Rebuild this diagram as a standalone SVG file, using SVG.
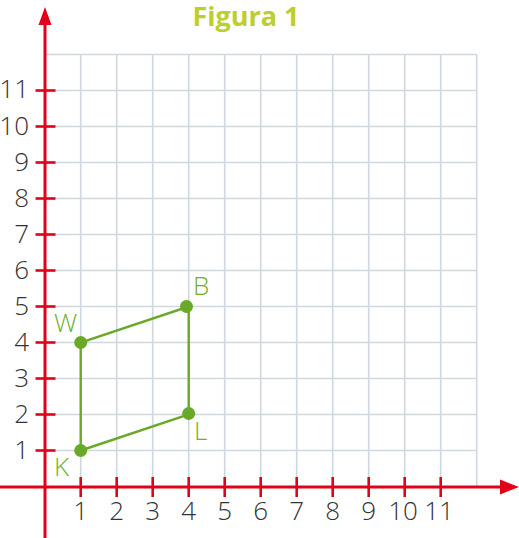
<svg xmlns="http://www.w3.org/2000/svg" width="519" height="538" viewBox="0 0 519 538">
<style>
.grid line{stroke:#cfd8e1;stroke-width:1.6}
.axis{stroke:#e2001a;stroke-width:3;fill:none}
.tick{stroke:#e2001a;stroke-width:2.6}
.num{font-family:"Open Sans","Liberation Sans",sans-serif;font-weight:300;font-size:26px;fill:#333}
.lbl{font-family:"Open Sans","Liberation Sans",sans-serif;font-weight:300;font-size:26px;fill:#72b02c}
.seg{stroke:#6aa82a;stroke-width:2.4;fill:none}
.pt{fill:#6aa82a}
</style>
<rect width="519" height="538" fill="#fff"/>
<text x="246" y="26" text-anchor="middle" font-family="'Open Sans','Liberation Sans',sans-serif" font-weight="700" font-size="27" fill="#bccf2c">Figura 1</text>
<g class="grid">
<line x1="80.7" y1="54.5" x2="80.7" y2="486.5"/><line x1="116.7" y1="54.5" x2="116.7" y2="486.5"/><line x1="152.7" y1="54.5" x2="152.7" y2="486.5"/><line x1="188.7" y1="54.5" x2="188.7" y2="486.5"/><line x1="224.7" y1="54.5" x2="224.7" y2="486.5"/><line x1="260.7" y1="54.5" x2="260.7" y2="486.5"/><line x1="296.7" y1="54.5" x2="296.7" y2="486.5"/><line x1="332.7" y1="54.5" x2="332.7" y2="486.5"/><line x1="368.7" y1="54.5" x2="368.7" y2="486.5"/><line x1="404.7" y1="54.5" x2="404.7" y2="486.5"/><line x1="440.7" y1="54.5" x2="440.7" y2="486.5"/><line x1="476.7" y1="54.5" x2="476.7" y2="486.5"/>
<line x1="45" y1="450.5" x2="476.7" y2="450.5"/><line x1="45" y1="414.5" x2="476.7" y2="414.5"/><line x1="45" y1="378.5" x2="476.7" y2="378.5"/><line x1="45" y1="342.5" x2="476.7" y2="342.5"/><line x1="45" y1="306.5" x2="476.7" y2="306.5"/><line x1="45" y1="270.5" x2="476.7" y2="270.5"/><line x1="45" y1="234.5" x2="476.7" y2="234.5"/><line x1="45" y1="198.5" x2="476.7" y2="198.5"/><line x1="45" y1="162.5" x2="476.7" y2="162.5"/><line x1="45" y1="126.5" x2="476.7" y2="126.5"/><line x1="45" y1="90.5" x2="476.7" y2="90.5"/><line x1="45" y1="54.5" x2="476.7" y2="54.5"/>
</g>
<g id="axes">
<line class="axis" x1="0" y1="487" x2="503" y2="487"/>
<polygon points="519,487 500,479.5 500,494.5" fill="#e2001a"/>
<line class="axis" x1="45" y1="538" x2="45" y2="22"/>
<polygon points="45,7 38.5,25 51.5,25" fill="#e2001a"/>
<g class="tick">
<line x1="80.7" y1="477" x2="80.7" y2="497"/><line x1="116.7" y1="477" x2="116.7" y2="497"/><line x1="152.7" y1="477" x2="152.7" y2="497"/><line x1="188.7" y1="477" x2="188.7" y2="497"/><line x1="224.7" y1="477" x2="224.7" y2="497"/><line x1="260.7" y1="477" x2="260.7" y2="497"/><line x1="296.7" y1="477" x2="296.7" y2="497"/><line x1="332.7" y1="477" x2="332.7" y2="497"/><line x1="368.7" y1="477" x2="368.7" y2="497"/><line x1="404.7" y1="477" x2="404.7" y2="497"/><line x1="440.7" y1="477" x2="440.7" y2="497"/>
<line x1="35.5" y1="450.5" x2="55.5" y2="450.5"/><line x1="35.5" y1="414.5" x2="55.5" y2="414.5"/><line x1="35.5" y1="378.5" x2="55.5" y2="378.5"/><line x1="35.5" y1="342.5" x2="55.5" y2="342.5"/><line x1="35.5" y1="306.5" x2="55.5" y2="306.5"/><line x1="35.5" y1="270.5" x2="55.5" y2="270.5"/><line x1="35.5" y1="234.5" x2="55.5" y2="234.5"/><line x1="35.5" y1="198.5" x2="55.5" y2="198.5"/><line x1="35.5" y1="162.5" x2="55.5" y2="162.5"/><line x1="35.5" y1="126.5" x2="55.5" y2="126.5"/><line x1="35.5" y1="90.5" x2="55.5" y2="90.5"/>
</g>
<g class="num" text-anchor="middle">
<text x="80.7" y="520">1</text><text x="116.7" y="520">2</text><text x="152.7" y="520">3</text><text x="188.7" y="520">4</text><text x="224.7" y="520">5</text><text x="260.7" y="520">6</text><text x="296.7" y="520">7</text><text x="332.7" y="520">8</text><text x="368.7" y="520">9</text><text x="403" y="520">10</text><text x="439" y="520">11</text>
</g>
<g class="num" text-anchor="end">
<text x="29" y="459">1</text><text x="29" y="423">2</text><text x="29" y="387">3</text><text x="29" y="351">4</text><text x="29" y="315">5</text><text x="29" y="279">6</text><text x="29" y="243">7</text><text x="29" y="207">8</text><text x="29" y="171">9</text><text x="29" y="135">10</text><text x="29" y="98">11</text>
</g>
</g>
<g id="connectors">
<polyline class="seg" points="80.7,450.5 80.7,342.5 188.7,306.5 188.7,414.5 80.7,450.5"/>
</g>
<g id="K"><circle class="pt" cx="80.7" cy="450.5" r="6.5"/><text class="lbl" x="54" y="476">K</text></g>
<g id="W"><circle class="pt" cx="80.7" cy="342.5" r="6.5"/><text class="lbl" x="54" y="332">W</text></g>
<g id="B"><circle class="pt" cx="186.5" cy="306.5" r="6.5"/><text class="lbl" x="193" y="295">B</text></g>
<g id="L"><circle class="pt" cx="188.7" cy="413.5" r="6.5"/><text class="lbl" x="194" y="440">L</text></g>
</svg>
